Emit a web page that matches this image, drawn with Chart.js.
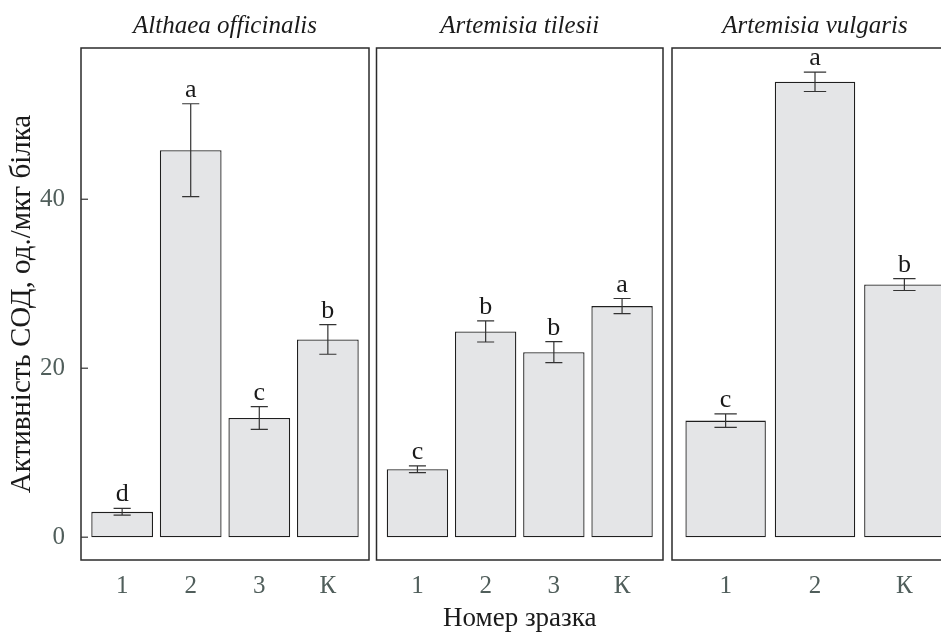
<!DOCTYPE html>
<html>
<head>
<meta charset="utf-8">
<script src="https://cdn.jsdelivr.net/npm/chart.js@4/dist/chart.umd.min.js"></script>
<style>
  html, body { margin: 0; padding: 0; background: #fff; }
  #fig { position: relative; width: 941px; height: 634px; overflow: hidden; background: #fff; }
  #fig canvas { position: absolute; top: 0; }
</style>
</head>
<body>
<div id="fig">
  <canvas id="p1" width="372" height="634" style="left:0px"></canvas>
  <canvas id="p2" width="294" height="634" style="left:372px"></canvas>
  <canvas id="p3" width="300" height="634" style="left:668px"></canvas>
</div>
<script>
// SOD activity per sample, mean ± error, with significance groups
const speciesNames = ['Althaea officinalis', 'Artemisia tilesii', 'Artemisia vulgaris'];

const samplesAlthaea = ['1', '2', '3', 'К'];
const meanAlthaea    = [3.0, 45.8, 14.1, 23.4];
const errAlthaea     = [0.4, 5.5, 1.35, 1.75];
const groupAlthaea   = ['d', 'a', 'c', 'b'];

const samplesTilesii = ['1', '2', '3', 'К'];
const meanTilesii    = [8.05, 24.35, 21.9, 27.35];
const errTilesii     = [0.4, 1.25, 1.25, 0.9];
const groupTilesii   = ['c', 'b', 'b', 'a'];

const samplesVulgaris = ['1', '2', 'К'];
const meanVulgaris    = [13.8, 53.9, 29.9];
const errVulgaris     = [0.8, 1.15, 0.7];
const groupVulgaris   = ['c', 'a', 'b'];

const yTickValues = [0, 20, 40];
const yLimits = [-2.7, 57.9];

const yTitle = 'Активність СОД, од./мкг білка';
const xTitle = 'Номер зразка';

const SERIF = "'Liberation Serif', 'DejaVu Serif', serif";
const TICK_COLOR = '#505e5b';
const INK = '#1a1a1a';

// Panel frame, error bars, group letters, facet title and inward y ticks
const panelDecor = {
  id: 'panelDecor',
  afterDatasetsDraw(chart, args, opts) {
    const ctx = chart.ctx;
    const xs = chart.scales.x, ys = chart.scales.y;
    const unit = xs.getPixelForValue(2) - xs.getPixelForValue(1);
    const cap = unit * 0.125;
    ctx.save();
    ctx.strokeStyle = '#333';
    ctx.lineWidth = 1.2;
    opts.means.forEach((m, i) => {
      const x = xs.getPixelForValue(i + 1);
      const hi = ys.getPixelForValue(m + opts.errs[i]);
      const lo = ys.getPixelForValue(m - opts.errs[i]);
      ctx.beginPath();
      ctx.moveTo(x, hi); ctx.lineTo(x, lo);
      ctx.moveTo(x - cap, hi); ctx.lineTo(x + cap, hi);
      ctx.moveTo(x - cap, lo); ctx.lineTo(x + cap, lo);
      ctx.stroke();
      ctx.fillStyle = INK;
      ctx.font = '26px ' + SERIF;
      ctx.textAlign = 'center';
      ctx.textBaseline = 'alphabetic';
      ctx.fillText(opts.groups[i], x, hi - 7);
    });
    ctx.restore();
  },
  afterDraw(chart, args, opts) {
    const ctx = chart.ctx;
    const a = chart.chartArea;
    ctx.save();
    ctx.strokeStyle = '#2b2b2b';
    ctx.lineWidth = 1.5;
    ctx.strokeRect(a.left, a.top, a.right - a.left, a.bottom - a.top);
    if (opts.ticks) {
      const ys = chart.scales.y;
      ctx.lineWidth = 1.2;
      ctx.strokeStyle = '#333';
      yTickValues.forEach(v => {
        const y = ys.getPixelForValue(v);
        ctx.beginPath();
        ctx.moveTo(a.left, y); ctx.lineTo(a.left + 7, y);
        ctx.stroke();
      });
    }
    ctx.fillStyle = INK;
    ctx.font = 'italic 25px ' + SERIF;
    ctx.textAlign = 'center';
    ctx.textBaseline = 'alphabetic';
    ctx.fillText(opts.title, (a.left + a.right) / 2, 33);
    ctx.restore();
  }
};

function makePanel(id, title, samples, means, errs, groups, cfg) {
  const data = means.map((v, i) => ({ x: i + 1, y: v }));
  new Chart(document.getElementById(id), {
    type: 'bar',
    data: {
      datasets: [{
        data: data,
        backgroundColor: '#e4e5e7',
        borderColor: '#1f1f1f',
        borderWidth: 1.3,
        borderSkipped: false,
        categoryPercentage: 0.9,
        barPercentage: 1.0
      }]
    },
    options: {
      responsive: false,
      animation: false,
      devicePixelRatio: 1,
      layout: { padding: cfg.padding },
      plugins: {
        legend: { display: false },
        tooltip: { enabled: false },
        title: { display: false },
        panelDecor: { title, means, errs, groups, ticks: cfg.showY }
      },
      scales: {
        x: {
          type: 'linear',
          offset: false,
          min: 0.4,
          max: samples.length + 0.6,
          afterBuildTicks: s => { s.ticks = samples.map((_, i) => ({ value: i + 1 })); },
          afterFit: s => { s.height = 74; },
          grid: { display: false, drawTicks: false, tickLength: 0, offset: false },
          border: { display: false },
          ticks: {
            padding: 11,
            autoSkip: false,
            maxRotation: 0,
            color: TICK_COLOR,
            font: { family: SERIF, size: 25 },
            callback: v => samples[v - 1]
          },
          title: cfg.showX ? {
            display: true,
            text: xTitle,
            color: INK,
            font: { family: SERIF, size: 27, lineHeight: 1 },
            padding: { top: 0, bottom: 1.5 }
          } : { display: false }
        },
        y: {
          display: cfg.showY,
          min: yLimits[0],
          max: yLimits[1],
          afterBuildTicks: s => { s.ticks = yTickValues.map(v => ({ value: v })); },
          afterFit: s => { if (cfg.showY) s.width = 81; },
          grid: { display: false, drawTicks: false, tickLength: 0 },
          border: { display: false },
          ticks: {
            padding: 16,
            color: TICK_COLOR,
            font: { family: SERIF, size: 25 }
          },
          title: {
            display: cfg.showY,
            text: yTitle,
            color: INK,
            font: { family: SERIF, size: 29, lineHeight: 1 },
            padding: { top: 8, bottom: 0 }
          }
        }
      }
    },
    plugins: [panelDecor]
  });
}

makePanel('p1', speciesNames[0], samplesAlthaea, meanAlthaea, errAlthaea, groupAlthaea,
  { padding: { top: 48, bottom: 0, left: 0, right: 3 }, showY: true, showX: false });
makePanel('p2', speciesNames[1], samplesTilesii, meanTilesii, errTilesii, groupTilesii,
  { padding: { top: 48, bottom: 0, left: 4.5, right: 3 }, showY: false, showX: true });
makePanel('p3', speciesNames[2], samplesVulgaris, meanVulgaris, errVulgaris, groupVulgaris,
  { padding: { top: 48, bottom: 0, left: 4, right: 10 }, showY: false, showX: false });
</script>
</body>
</html>
